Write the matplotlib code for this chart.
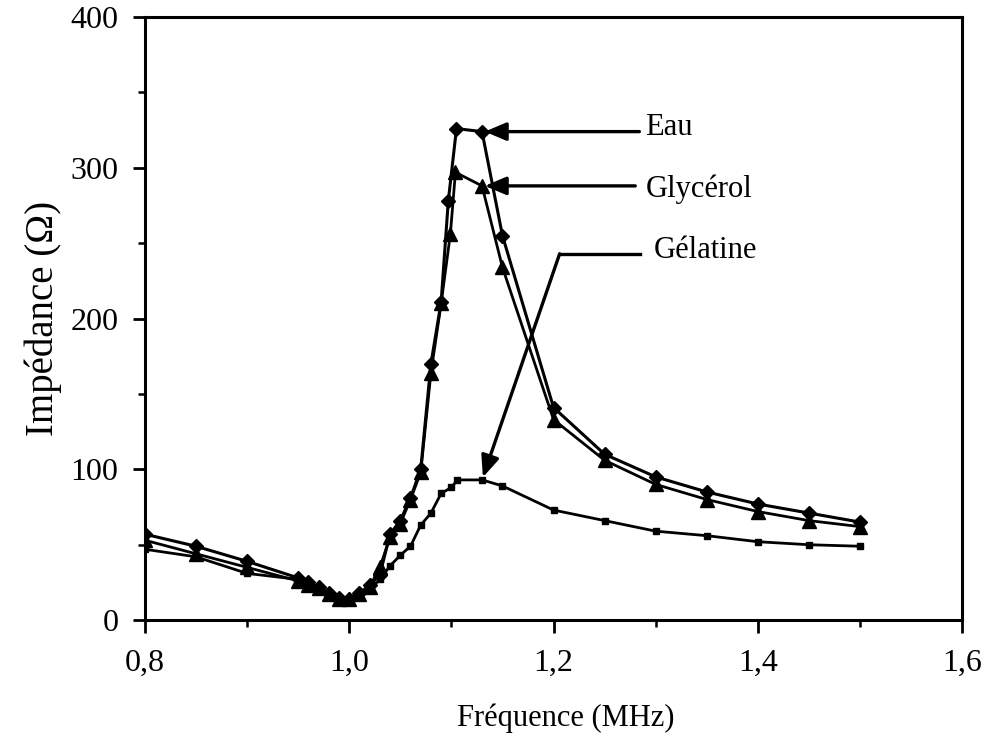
import numpy as np
import matplotlib
matplotlib.use("Agg")
import matplotlib.pyplot as plt
from matplotlib.ticker import MultipleLocator, FuncFormatter

plt.rcParams["font.family"] = ["Liberation Serif", "DejaVu Serif"]

# ----- Data -----
freq_eau = [0.80, 0.85, 0.90, 0.95, 0.96, 0.97, 0.98, 0.99, 1.00, 1.01, 1.02,
            1.03, 1.04, 1.05, 1.06, 1.07, 1.08, 1.09, 1.097, 1.105, 1.13, 1.15,
            1.20, 1.25, 1.30, 1.35, 1.40, 1.45, 1.50]
z_eau = [57, 49, 39, 28, 25, 22, 18, 15, 14, 18, 23,
         30, 57, 66, 81, 100, 170, 211, 278, 326, 324, 255,
         141, 110, 95, 85, 77, 71, 65]

freq_gly = [0.80, 0.85, 0.90, 0.95, 0.96, 0.97, 0.98, 0.99, 1.00, 1.01, 1.02,
            1.03, 1.04, 1.05, 1.06, 1.07, 1.08, 1.09, 1.099, 1.104, 1.13, 1.15,
            1.20, 1.25, 1.30, 1.35, 1.40, 1.45, 1.50]
z_gly = [53, 44, 35, 26, 23, 21, 17, 14, 14, 17, 22,
         35, 55, 64, 80, 98, 164, 210, 256, 297, 288, 234,
         133, 106, 90, 80, 72, 66, 62]

freq_gel = [0.80, 0.85, 0.90, 0.95, 0.96, 0.97, 0.98, 0.99, 1.00, 1.01, 1.02,
            1.03, 1.04, 1.05, 1.06, 1.07, 1.08, 1.09, 1.10, 1.106, 1.13, 1.15,
            1.20, 1.25, 1.30, 1.35, 1.40, 1.45, 1.50]
z_gel = [47, 42, 31, 27, 22, 19, 16, 14, 14, 16, 20,
         27, 36, 43, 49, 63, 71, 84, 88, 93, 93, 89,
         73, 66, 59, 56, 52, 50, 49]

labels = ["Eau", "Glycérol", "Gélatine"]

# ----- Figure -----
fig = plt.figure(figsize=(9.92, 7.4), dpi=100)
ax = fig.add_axes([0.146, 0.162, 0.824, 0.815])

ax.plot(freq_eau, z_eau, color="black", lw=2.2, marker="D", ms=7.5, zorder=3)
ax.plot(freq_gly, z_gly, color="black", lw=2.0, marker="^", ms=9.5, zorder=3)
ax.plot(freq_gel, z_gel, color="black", lw=2.0, marker="s", ms=5, zorder=3)

ax.set_xlim(0.8, 1.6)
ax.set_ylim(0, 400)
ax.xaxis.set_major_locator(MultipleLocator(0.2))
ax.xaxis.set_minor_locator(MultipleLocator(0.1))
ax.yaxis.set_major_locator(MultipleLocator(100))
ax.yaxis.set_minor_locator(MultipleLocator(50))
ax.xaxis.set_major_formatter(FuncFormatter(lambda v, p: f"{v:.1f}".replace(".", ",")))

ax.tick_params(axis="both", which="major", direction="out", width=2, labelsize=23, color="black")
ax.tick_params(axis="x", which="major", length=9, pad=12)
ax.tick_params(axis="y", which="major", length=9, pad=10)
ax.tick_params(axis="both", which="minor", direction="out", width=1.8, length=5)
for sp in ax.spines.values():
    sp.set_linewidth(2.2)

ax.set_xlabel("Fréquence (MHz)", fontsize=22)
ax.xaxis.set_label_coords(0.515, -0.138)
ax.set_ylabel("Impédance (Ω)", fontsize=28, labelpad=6)

# ----- Annotations -----
head = dict(arrowstyle="-|>,head_length=1.3,head_width=0.55", color="black", lw=2.4,
            shrinkA=0, shrinkB=2)
ax.annotate("", xy=(freq_eau[20], z_eau[20]), xytext=(1.284, z_eau[20]), arrowprops=head)
ax.text(1.29, 327, labels[0], fontsize=22, va="center", ha="left")

ax.annotate("", xy=(freq_gly[20], z_gly[20]), xytext=(1.28, z_gly[20]), arrowprops=head)
ax.text(1.29, 286, labels[1], fontsize=22, va="center", ha="left")

ax.plot([1.285, 1.206], [243, 243], color="black", lw=2.4)
ax.annotate("", xy=(freq_gel[20], z_gel[20]), xytext=(1.206, 243), arrowprops=head)
ax.text(1.298, 245, labels[2], fontsize=22, va="center", ha="left")

fig.savefig("out.png", dpi=100)
